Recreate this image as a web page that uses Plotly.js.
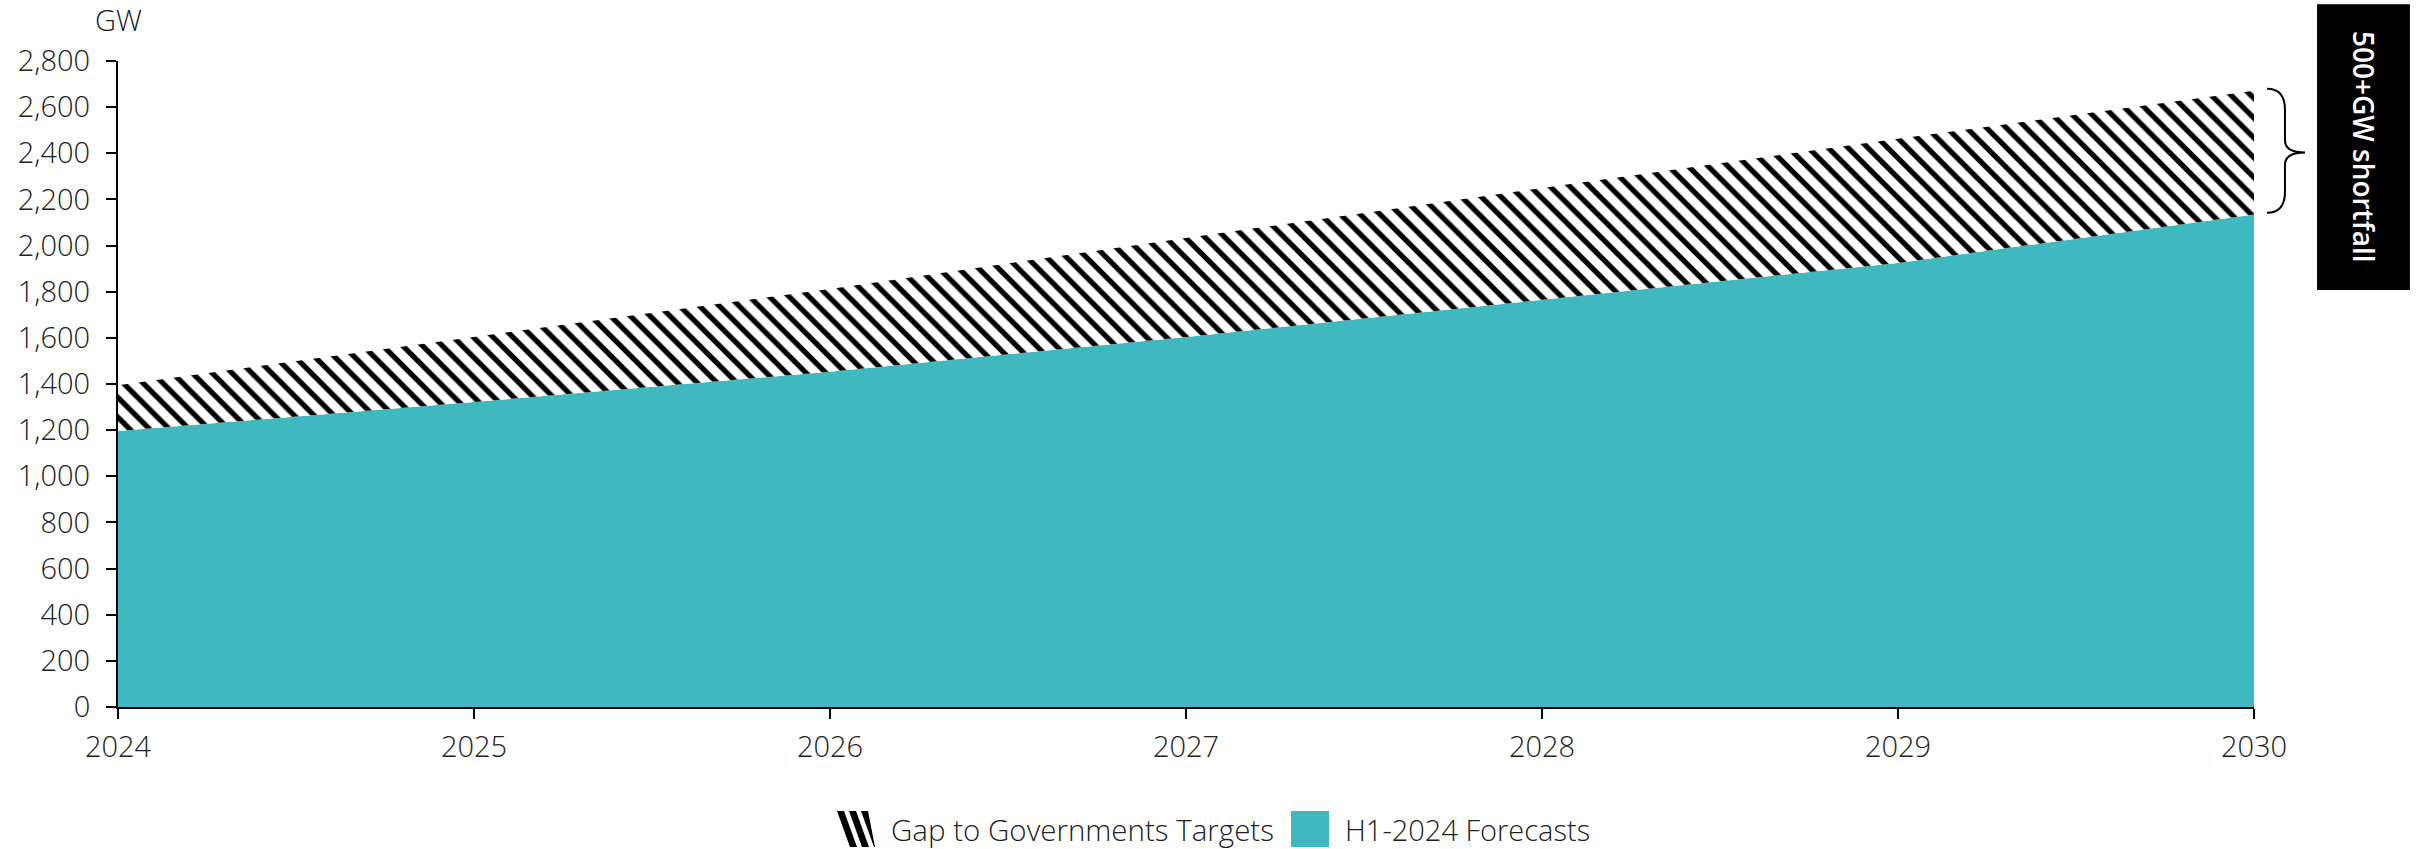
<!DOCTYPE html>
<html>
<head>
<meta charset="utf-8">
<script src="https://cdn.plot.ly/plotly-3.0.1.min.js"></script>
<style>
  html, body { margin: 0; padding: 0; background: #fff; }
  #chart { width: 2432px; height: 849px; }
</style>
</head>
<body>
<div id="chart"></div>
<script>
// ---- data ----
const years = [2024, 2025, 2026, 2027, 2028, 2029, 2030];
const forecasts = [1196, 1322, 1453, 1604, 1765, 1925, 2135];      // H1-2024 Forecasts (GW)
const targets = [1395, 1604, 1812, 2033, 2250, 2463, 2671];        // Governments targets (GW)
const yTickVals = [0, 200, 400, 600, 800, 1000, 1200, 1400, 1600, 1800, 2000, 2200, 2400, 2600, 2800];
const xTickVals = [2024, 2025, 2026, 2027, 2028, 2029, 2030];
const seriesNames = ['H1-2024 Forecasts', 'Gap to Governments Targets'];
const unitLabel = 'GW';
const calloutText = '500+GW shortfall';

const teal = 'rgb(63,184,191)';
const FONT = '"Open Sans", "Noto Sans", sans-serif';
const TXT = '#222';

// plot-area geometry (px) used to place legend decorations in paper coords
const W = 2432, H = 849, ML = 118, MR = 178, MT = 61, MB = 142;
const PW = W - ML - MR, PH = H - MT - MB;
const px = v => (v - ML) / PW;
const py = v => (H - MB - v) / PH;

const traces = [
  {
    x: years, y: forecasts, name: seriesNames[0],
    type: 'scatter', mode: 'none', fill: 'tozeroy',
    fillcolor: teal, hoverinfo: 'skip', showlegend: false
  },
  {
    x: years, y: targets, name: seriesNames[1],
    type: 'scatter', mode: 'none', fill: 'tonexty',
    fillcolor: 'white',
    fillpattern: { shape: '\\', fgcolor: 'black', bgcolor: 'white', size: 14, solidity: 0.38 },
    hoverinfo: 'skip', showlegend: false
  }
];

// brace from top of gap to top of forecast at the last year
const last = years.length - 1;
const yTop = targets[last], yBot = forecasts[last];
const yMid = (yTop + yBot) / 2;
const span = yTop - yBot;
const xa = 1.0061, xb = 1.0145, xc = 1.0239;
const r = span * 0.17;
const braceTop = yTop + span * 0.017, braceBot = yBot + span * 0.013;
const bracePath =
  `M ${xa},${braceTop} Q ${xb},${braceTop} ${xb},${braceTop - r} ` +
  `L ${xb},${yMid + span * 0.1} Q ${xb},${yMid} ${xc},${yMid} ` +
  `Q ${xb},${yMid} ${xb},${yMid - span * 0.1} ` +
  `L ${xb},${braceBot + r} Q ${xb},${braceBot} ${xa},${braceBot}`;

// custom legend (square icons like the reference)
const legY0 = 811, legY1 = 847, legYc = 829;
const hatchX0 = 837, tealX0 = 1291, icon = 38;
let hatchPath = '';
for (let i = 0; i < 3; i++) {
  const t0 = hatchX0 + i * 12, b0 = t0 + 13, w = 7;
  hatchPath += `M ${px(t0)},${py(legY0)} L ${px(t0 + w)},${py(legY0)} L ${px(Math.min(b0 + w, hatchX0 + icon))},${py(legY1)} L ${px(b0)},${py(legY1)} Z `;
}

const layout = {
  width: W, height: H,
  margin: { l: ML, r: MR, t: MT, b: MB, autoexpand: false },
  paper_bgcolor: 'white', plot_bgcolor: 'white',
  font: { family: FONT, size: 29, color: TXT },
  showlegend: false,
  xaxis: {
    range: [2024, 2030], tickvals: xTickVals, ticktext: xTickVals.map(String),
    showgrid: false, zeroline: false,
    showline: true, linecolor: 'black', linewidth: 2,
    ticks: 'outside', ticklen: 10, tickwidth: 2, tickcolor: 'black',
    ticklabelstandoff: 3,
    tickfont: { family: FONT, size: 29, color: TXT, weight: 300 }
  },
  yaxis: {
    range: [0, 2800], tickvals: yTickVals,
    ticktext: yTickVals.map(v => v.toLocaleString('en-US')),
    showgrid: false, zeroline: false,
    showline: true, linecolor: 'black', linewidth: 2,
    ticks: 'outside', ticklen: 10, tickwidth: 2, tickcolor: 'black',
    ticklabelstandoff: 10,
    tickfont: { family: FONT, size: 29, color: TXT, weight: 300 }
  },
  shapes: [
    { type: 'path', xref: 'paper', yref: 'y', path: bracePath,
      line: { color: 'black', width: 2 }, fillcolor: 'rgba(0,0,0,0)' },
    { type: 'rect', xref: 'paper', yref: 'paper',
      x0: 1.0295, x1: 1.073, y0: 0.6455, y1: 1.088,
      fillcolor: 'black', line: { width: 0 } },
    { type: 'path', xref: 'paper', yref: 'paper', path: hatchPath,
      fillcolor: 'black', line: { width: 0 } },
    { type: 'rect', xref: 'paper', yref: 'paper',
      x0: px(tealX0), x1: px(tealX0 + icon), y0: py(legY1), y1: py(legY0),
      fillcolor: teal, line: { width: 0 } }
  ],
  annotations: [
    { text: unitLabel, xref: 'paper', yref: 'paper', x: 0, y: 1.065,
      xanchor: 'center', yanchor: 'middle', showarrow: false,
      font: { family: FONT, size: 29, color: TXT, weight: 300 } },
    { text: calloutText, xref: 'paper', yref: 'paper', x: 1.0515, y: 0.867,
      xanchor: 'center', yanchor: 'middle', showarrow: false, textangle: 90,
      font: { family: FONT, size: 28, color: 'white', weight: 600 } },
    { text: seriesNames[1], xref: 'paper', yref: 'paper', x: px(889), y: py(legYc),
      xanchor: 'left', yanchor: 'middle', showarrow: false,
      font: { family: FONT, size: 29.5, color: TXT, weight: 300 } },
    { text: seriesNames[0], xref: 'paper', yref: 'paper', x: px(1343), y: py(legYc),
      xanchor: 'left', yanchor: 'middle', showarrow: false,
      font: { family: FONT, size: 29, color: TXT, weight: 300 } }
  ]
};

Plotly.newPlot('chart', traces, layout, { displayModeBar: false, staticPlot: true });
</script>
</body>
</html>
